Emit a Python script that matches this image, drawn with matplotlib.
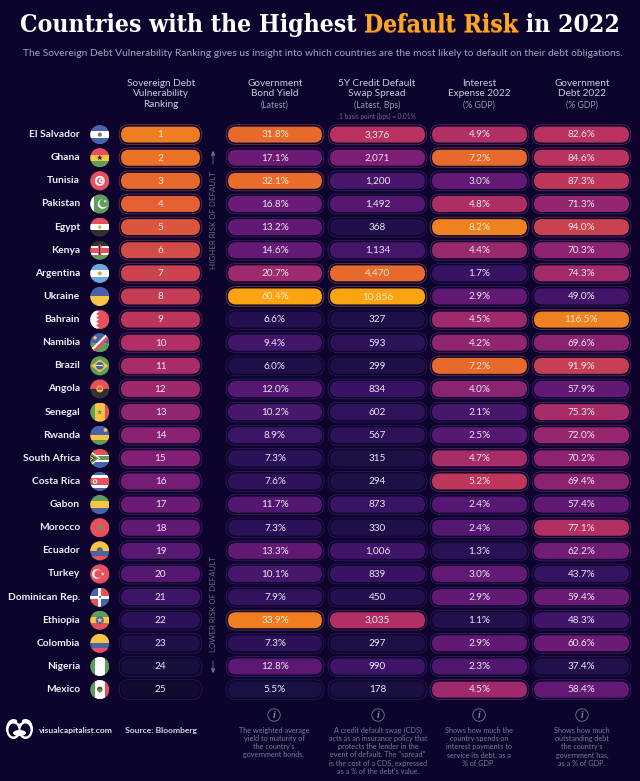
import matplotlib
matplotlib.use("Agg")
import matplotlib.pyplot as plt
import numpy as np
from matplotlib.colors import LinearSegmentedColormap, to_rgb
from matplotlib.patches import FancyBboxPatch, Circle, Rectangle, Polygon, Ellipse
from matplotlib.transforms import Affine2D

countries = ["El Salvador","Ghana","Tunisia","Pakistan","Egypt","Kenya","Argentina","Ukraine","Bahrain","Namibia",
             "Brazil","Angola","Senegal","Rwanda","South Africa","Costa Rica","Gabon","Morocco","Ecuador","Turkey",
             "Dominican Rep.","Ethiopia","Colombia","Nigeria","Mexico"]
ranks = list(range(1, 26))
bond_yield = [31.8,17.1,32.1,16.8,13.2,14.6,20.7,60.4,6.6,9.4,6.0,12.0,10.2,8.9,7.3,7.6,11.7,7.3,13.3,10.1,7.9,33.9,7.3,12.8,5.5]
cds_spread = [3376,2071,1200,1492,368,1134,4470,10856,327,593,299,834,602,567,315,294,873,330,1006,839,450,3035,297,990,178]
interest = [4.9,7.2,3.0,4.8,8.2,4.4,1.7,2.9,4.5,4.2,7.2,4.0,2.1,2.5,4.7,5.2,2.4,2.4,1.3,3.0,2.9,1.1,2.9,2.3,4.5]
debt = [82.6,84.6,87.3,71.3,94.0,70.3,74.3,49.0,116.5,69.6,91.9,57.9,75.3,72.0,70.2,69.4,57.4,77.1,62.2,43.7,59.4,48.3,60.6,37.4,58.4]

BG = "#0d032c"
W, H = 640, 781
fig = plt.figure(figsize=(W/100, H/100), dpi=100, facecolor=BG)
ax = fig.add_axes([0, 0, 1, 1])
ax.set_xlim(0, W); ax.set_ylim(H, 0); ax.axis("off")
FONT = "Lato"

cmap = LinearSegmentedColormap.from_list("risk", [
    (0.00, "#110c2e"), (0.15, "#22104e"), (0.30, "#3c1468"), (0.45, "#5a1874"),
    (0.55, "#7c1e76"), (0.65, "#9e296c"), (0.72, "#b83160"), (0.80, "#d0484a"),
    (0.88, "#e8682c"), (0.94, "#f08020"), (1.00, "#fca311")])

ROW0, ROWH = 134.6, 23.125
row_y = [ROW0 + i*ROWH for i in range(25)]

def pill(x0, x1, y, color):
    h = 16.0
    rgb = np.array(to_rgb(color))
    bgc = np.array(to_rgb(BG))
    edge = np.clip(bgc + (rgb - bgc)*0.3 + np.array([.075, .075, .12]), 0, 1)
    ax.add_patch(FancyBboxPatch((x0, y-h/2), x1-x0, h,
                 boxstyle=f"round,pad=1.9,rounding_size={h/2+1.9}", fc="none", ec=tuple(edge), lw=0.6, zorder=2))
    ax.add_patch(FancyBboxPatch((x0, y-h/2), x1-x0, h,
                 boxstyle=f"round,pad=0,rounding_size={h/2}", fc=color, ec="none", zorder=3))

columns = [
    (121, 200, ranks, [str(r) for r in ranks], [1,8,16,20,22,25], [.93,.76,.53,.42,.2,0]),
    (228, 322, bond_yield, [f"{v:.1f}%" for v in bond_yield],
     [5.5,7.3,9.4,13.2,17.1,20.7,31.8,33.9,60.4], [.1,.2,.33,.47,.5,.65,.88,.93,1]),
    (330, 425, cds_spread, [f"{v:,}" for v in cds_spread],
     [178,368,600,1200,2071,3035,3376,4470,10856], [.09,.13,.22,.36,.55,.7,.72,.88,1]),
    (432, 527, interest, [f"{v:.1f}%" for v in interest],
     [1.1,1.7,2.4,3,4.5,5.2,7.2,8.2], [.15,.28,.42,.48,.65,.74,.88,.94]),
    (534, 629, debt, [f"{v:.1f}%" for v in debt],
     [37.4,43.7,49,57.4,70,77,87,94,116.5], [.14,.25,.33,.47,.6,.7,.74,.78,.94]),
]
for x0, x1, vals, labs, xp, tp in columns:
    for y, v, s in zip(row_y, vals, labs):
        t = float(np.interp(v, xp, tp))
        pill(x0, x1, y, cmap(t))
        tc = "#fde9cf" if t > 0.86 else "#ece6f2"
        ax.text((x0+x1)/2, y+0.3, s, color=tc, fontsize=7.2, family=FONT, ha="center", va="center", zorder=4)

for c, y in zip(countries, row_y):
    ax.text(80, y, c, color="#f2eef6", fontsize=7.4, family=FONT, weight="bold", ha="right", va="center")

# ---------- flags
RED, GRN, BLU, YEL, DK, WHT, SKY = "#e8505f", "#5f9e5a", "#4a62ac", "#f7c444", "#33302f", "#ffffff", "#6fa8e0"
stripes = {
    "El Salvador": ("h", [BLU, WHT, BLU]), "Ghana": ("h", [RED, YEL, GRN]), "Tunisia": ("h", [RED]),
    "Pakistan": ("v", [WHT, GRN, GRN, GRN, GRN]), "Egypt": ("h", [RED, WHT, DK]),
    "Kenya": ("h", [DK, DK, DK, WHT, RED, RED, RED, WHT, GRN, GRN, GRN]), "Argentina": ("h", [SKY, WHT, SKY]),
    "Ukraine": ("h", [BLU, YEL]), "Bahrain": ("h", [RED]), "Namibia": ("h", [BLU, GRN]),
    "Brazil": ("h", [GRN]), "Angola": ("h", [RED, DK]), "Senegal": ("v", [GRN, YEL, YEL, RED]),
    "Rwanda": ("h", [BLU, BLU, YEL, GRN]), "South Africa": ("h", [RED, BLU]),
    "Costa Rica": ("h", [BLU, WHT, RED, RED, WHT, BLU]), "Gabon": ("h", [GRN, YEL, BLU]), "Morocco": ("h", [RED]),
    "Ecuador": ("h", [YEL, YEL, BLU, RED]), "Turkey": ("h", [RED]), "Dominican Rep.": ("h", [BLU, RED]),
    "Ethiopia": ("h", [GRN, YEL, RED]), "Colombia": ("h", [YEL, YEL, BLU, RED]),
    "Nigeria": ("v", [GRN, WHT, WHT, GRN]), "Mexico": ("v", [GRN, WHT, WHT, RED]),
}

def flag(name, cy, cx=99.8, r=9.6):
    tr = Affine2D().scale(r).translate(cx, cy) + ax.transData
    clip = Circle((0, 0), 1, transform=tr)
    def add(p):
        p.set_transform(tr); p.set_clip_path(clip); p.set_zorder(5); ax.add_patch(p); return p
    def rect(x, y, w, h, c): add(Rectangle((x, y), w, h, fc=c, ec="none"))
    def disc(x, y, rad, c): add(Circle((x, y), rad, fc=c, ec="none"))
    def poly(pts, c): add(Polygon(pts, closed=True, fc=c, ec="none"))
    def star(x, y, rad, c):
        a = np.arange(10)*np.pi/5 + np.pi/2
        rr = np.where(np.arange(10) % 2 == 0, rad, rad*0.42)
        poly(np.c_[x + rr*np.cos(a), y - rr*np.sin(a)], c)
    o, cols = stripes[name]
    n = len(cols)
    for i, c in enumerate(cols):
        if o == "h": rect(-1, -1 + 2*i/n, 2, 2/n + .01, c)
        else: rect(-1 + 2*i/n, -1, 2/n + .01, 2, c)
    if name == "El Salvador": disc(0, 0, .22, "#7a7a6a")
    if name == "Ghana": star(0, 0, .3, "#222222")
    if name == "Tunisia":
        disc(0, 0, .52, WHT); disc(.06, 0, .34, RED); disc(.16, 0, .26, WHT); star(.18, 0, .16, RED)
    if name == "Pakistan":
        disc(.28, 0, .5, WHT); disc(.4, -.1, .44, GRN); star(.55, -.28, .18, WHT)
    if name == "Egypt": disc(0, 0, .17, "#d9a93a")
    if name == "Kenya":
        add(Ellipse((0, 0), .42, 1.3, fc=RED, ec="none")); rect(-.05, -.5, .1, 1.0, DK)
    if name == "Argentina": disc(0, 0, .2, "#d9a040")
    if name == "Bahrain":
        poly([(-1, -1), (-.35, -1), (-.1, -.8), (-.38, -.6), (-.1, -.4), (-.38, -.2), (-.1, 0), (-.38, .2),
              (-.1, .4), (-.38, .6), (-.1, .8), (-.35, 1), (-1, 1)], WHT)
    if name == "Namibia":
        poly([(-1.1, .85), (.85, -1.1), (1.1, -1.1), (1.1, -.75), (-.75, 1.1), (-1.1, 1.1)], WHT)
        poly([(-1.0, 1.05), (1.05, -1.0), (1.05, -.6), (-.6, 1.05)], RED)
        disc(-.5, -.5, .18, YEL)
    if name == "Brazil":
        poly([(-.9, 0), (0, -.68), (.9, 0), (0, .68)], YEL); disc(0, 0, .4, BLU); rect(-.38, -.05, .76, .08, WHT)
    if name == "Angola": disc(0, 0, .36, YEL); disc(0, 0, .24, RED); rect(-.3, .1, .55, .1, YEL)
    if name == "Senegal": star(0, 0, .3, GRN)
    if name == "Rwanda": disc(.6, -.55, .2, YEL)
    if name == "South Africa":
        rect(-1, -.34, 2, .68, WHT); rect(-1, -.2, 2, .4, GRN)
        poly([(-1.05, -.85), (.05, 0), (-1.05, .85)], WHT)
        poly([(-1.05, -.65), (-.1, 0), (-1.05, .65)], GRN)
        poly([(-1.05, -.42), (-.42, 0), (-1.05, .42)], DK)
        poly([(-1.05, -.3), (-.6, 0), (-1.05, .3)], YEL)
        poly([(-1.05, -.16), (-.8, 0), (-1.05, .16)], DK)
    if name == "Costa Rica": disc(-.5, 0, .24, WHT); disc(-.5, 0, .14, GRN)
    if name == "Morocco": star(0, 0, .38, "#5f9e5a")
    if name == "Ecuador": disc(0, -.05, .32, "#6a6a55"); rect(-.2, -.25, .4, .25, "#4a62ac")
    if name == "Turkey":
        disc(-.3, 0, .5, WHT); disc(-.17, 0, .4, RED); star(.32, 0, .2, WHT)
    if name == "Dominican Rep.":
        rect(0, -1, 1, 1, RED); rect(-1, 0, 1, 1, RED); rect(0, 0, 1, 1, BLU)
        rect(-1, -.16, 2, .32, WHT); rect(-.16, -1, .32, 2, WHT); rect(-.13, -.13, .26, .26, GRN)
    if name == "Ethiopia": disc(0, 0, .42, BLU); star(0, 0, .32, YEL)
    if name == "Mexico": disc(0, -.03, .28, "#5c4630"); disc(0, .12, .2, "#5f9e5a")

for c, y in zip(countries, row_y):
    flag(c, y)

# ---------- title (three runs side by side, sized to the reference's width)
TITLE = [("Countries with the Highest ", "#ffffff"), ("Default Risk", "#f9a826"), (" in 2022", "#ffffff")]
TFONT = dict(family="DejaVu Serif", weight="bold", stretch="condensed")
fig.canvas.draw()
rend = fig.canvas.get_renderer()
def run_width(s, size):
    g = ax.text(0, 0, s.replace(" ", "\u00a0"), fontsize=size, **TFONT)
    w = g.get_window_extent(rend).width
    g.remove()
    return w
fs = 17.0
fs *= 602.0 / sum(run_width(s, fs) for s, _ in TITLE)
x = 20.0
for s, c in TITLE:
    if c != "#ffffff":
        ax.text(x, 33.0, s.replace(" ", "\u00a0"), color="#b5541a", fontsize=fs, ha="left", va="baseline", zorder=5.5, **TFONT)
    ax.text(x, 32.2, s.replace(" ", "\u00a0"), color=c, fontsize=fs, ha="left", va="baseline", zorder=6, **TFONT)
    x += run_width(s, fs)

ax.text(322.5, 54, "The Sovereign Debt Vulnerability Ranking gives us insight into which countries are the most likely to default on their debt obligations.",
        color="#a9a1bd", fontsize=7.35, family=FONT, ha="center", va="center")

# ---------- column headers
HEAD = "#cfc9dc"; SUB = "#9a91ad"
headers = [
    (161, ["Sovereign Debt", "Vulnerability", "Ranking"], []),
    (275, ["Government", "Bond Yield"], ["(Latest)"]),
    (377, ["5Y Credit Default", "Swap Spread"], ["(Latest, Bps)"]),
    (479, ["Interest", "Expense 2022"], ["(% GDP)"]),
    (582, ["Government", "Debt 2022"], ["(% GDP)"]),
]
for xc, main, sub in headers:
    y = 83
    for s in main:
        ax.text(xc, y, s, color=HEAD, fontsize=7.2, family=FONT, ha="center", va="center"); y += 10.9
    for s in sub:
        ax.text(xc, y, s, color=SUB, fontsize=6.3, family=FONT, ha="center", va="center"); y += 10.9
ax.text(377, 116, "1 basis point (bps) = 0.01%", color="#6f6784", fontsize=4.7, family=FONT, ha="center", va="center")

# ---------- risk direction labels
SIDE = "#6f6784"
ax.text(213, 220.5, "HIGHER RISK OF DEFAULT", color=SIDE, fontsize=5.7, family=FONT, rotation=90, ha="center", va="center")
ax.text(213, 604, "LOWER RISK OF DEFAULT", color=SIDE, fontsize=5.7, family=FONT, rotation=90, ha="center", va="center")
ax.annotate("", xy=(213, 148), xytext=(213, 167), arrowprops=dict(arrowstyle="-|>,head_width=0.12,head_length=0.25", color=SIDE, lw=0.6))
ax.annotate("", xy=(213, 676), xytext=(213, 658), arrowprops=dict(arrowstyle="-|>,head_width=0.12,head_length=0.25", color=SIDE, lw=0.6))

# ---------- footer
notes = [
    (274, ["The weighted average", "yield to maturity of", "the country's", "government bonds."]),
    (378, ["A credit default swap (CDS)", "acts as an insurance policy that", "protects the lender in the",
           "event of default. The \"spread\"", "is the cost of a CDS, expressed", "as a % of the debt's value."]),
    (479, ["Shows how much the", "country spends on", "interest payments to", "service its debt, as a", "% of GDP."]),
    (582, ["Shows how much", "outstanding debt", "the country's", "government has,", "as a % of GDP."]),
]
NOTE = "#7f7793"
for xc, lines in notes:
    ax.add_patch(Ellipse((xc, 715), 12.5, 12.5, fc="none", ec="#6f6784", lw=0.7))
    ax.text(xc, 715.2, "i", color="#8f87a3", fontsize=7, family="Liberation Serif", style="italic", weight="bold", ha="center", va="center")
    for k, s in enumerate(lines):
        ax.text(xc, 730.7 + k*8.1, s, color=NOTE, fontsize=5.2, family=FONT, ha="center", va="center")

ax.text(39, 731, "visualcapitalist.com", color="#e2deea", fontsize=6.1, family=FONT, weight="bold", ha="left", va="center")
ax.text(125, 731, "Source: Bloomberg", color="#d6d1e0", fontsize=6.1, family=FONT, weight="bold", ha="left", va="center")
# logo mark: white ring, two dark eyes, white moustache
ax.add_patch(Ellipse((13.5, 729), 15, 20, fc="white", ec="none"))
ax.add_patch(Ellipse((25.5, 729), 15, 20, fc="white", ec="none"))
ax.add_patch(Ellipse((13.5, 730), 10, 13, fc=BG, ec="none"))
ax.add_patch(Ellipse((25.5, 730), 10, 13, fc=BG, ec="none"))
ax.add_patch(Ellipse((19.5, 733), 13, 6, fc="white", ec="none"))
ax.add_patch(Ellipse((19.5, 721), 5, 5, fc=BG, ec="none"))

fig.savefig("out.png", dpi=100, facecolor=BG)
